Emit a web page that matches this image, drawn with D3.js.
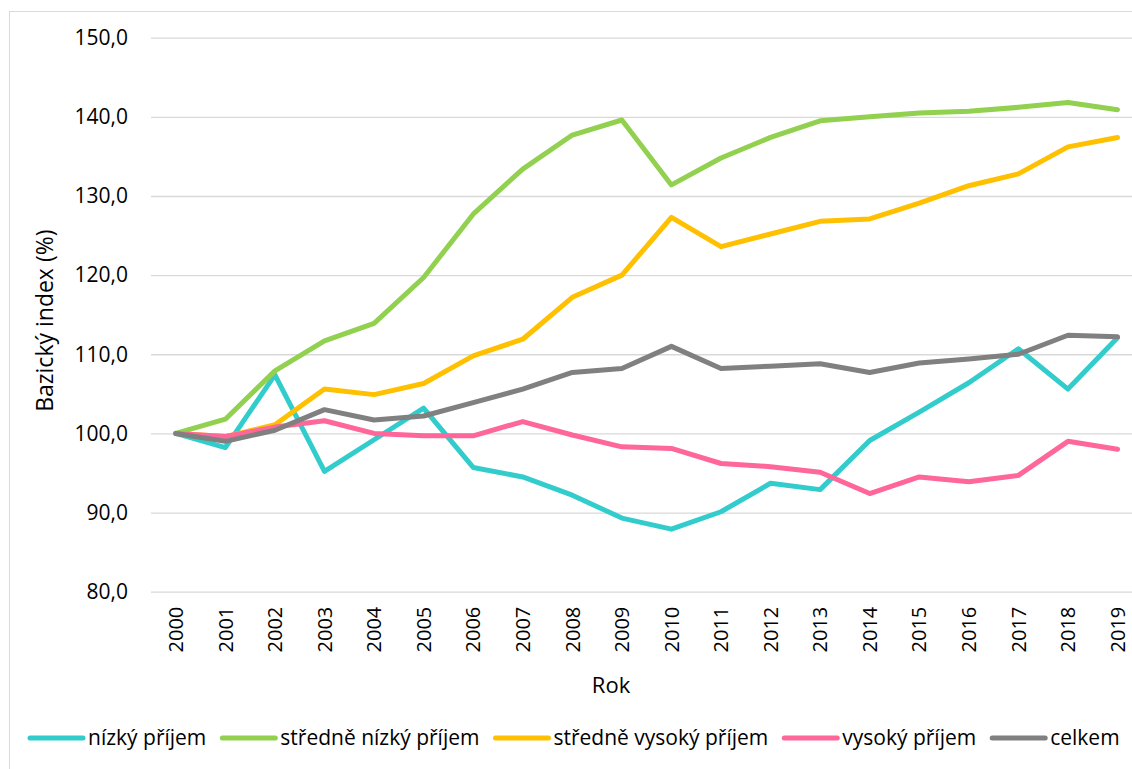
<!DOCTYPE html>
<html>
<head>
<meta charset="utf-8">
<script src="https://cdn.jsdelivr.net/npm/d3@7"></script>
<style>
  html, body { margin: 0; padding: 0; background: #fff; }
  svg { display: block; font-family: "Open Sans", "Noto Sans", sans-serif; }
</style>
</head>
<body>
<svg id="chart" width="1132" height="769"></svg>
<script>
const years = ["2000","2001","2002","2003","2004","2005","2006","2007","2008","2009","2010","2011","2012","2013","2014","2015","2016","2017","2018","2019"];
const nizkyPrijem = [100, 98.2, 107.4, 95.2, 99.2, 103.2, 95.7, 94.5, 92.2, 89.3, 87.9, 90.1, 93.7, 92.9, 99.1, 102.7, 106.4, 110.7, 105.6, 112.1];
const stredneNizkyPrijem = [100, 101.8, 107.9, 111.7, 113.9, 119.7, 127.7, 133.4, 137.7, 139.6, 131.4, 134.8, 137.4, 139.5, 140.0, 140.5, 140.7, 141.2, 141.8, 140.9];
const stredneVysokyPrijem = [100, 99.6, 101.1, 105.6, 104.9, 106.3, 109.8, 111.9, 117.2, 120.0, 127.3, 123.6, 125.2, 126.8, 127.1, 129.1, 131.3, 132.8, 136.2, 137.4];
const vysokyPrijem = [100, 99.6, 100.8, 101.6, 100.0, 99.7, 99.7, 101.5, 99.8, 98.3, 98.1, 96.2, 95.8, 95.1, 92.4, 94.5, 93.9, 94.7, 99.0, 98.0];
const celkem = [100, 99.0, 100.4, 103.0, 101.7, 102.2, 103.9, 105.6, 107.7, 108.2, 111.0, 108.2, 108.5, 108.8, 107.7, 108.9, 109.4, 110.0, 112.4, 112.2];
const seriesNames = ["nízký příjem", "středně nízký příjem", "středně vysoký příjem", "vysoký příjem", "celkem"];
const seriesColors = ["#33CCCC", "#92D050", "#FFC000", "#FF6699", "#808080"];
const yTicks = [80, 90, 100, 110, 120, 130, 140, 150];
const yTitle = "Bazický index (%)";
const xTitle = "Rok";

const seriesData = [nizkyPrijem, stredneNizkyPrijem, stredneVysokyPrijem, vysokyPrijem, celkem];

const svg = d3.select("#chart");
const plot = { left: 151, right: 1142.3, top: 37.7, bottom: 591.7 };

// chart frame
svg.append("rect")
  .attr("x", 9.5).attr("y", 11.5)
  .attr("width", 1200).attr("height", 800)
  .attr("fill", "none").attr("stroke", "#d9d9d9").attr("stroke-width", 1);

const x = d3.scaleBand().domain(years).range([plot.left, plot.right]);
const y = d3.scaleLinear().domain([80, 150]).range([plot.bottom, plot.top]);
const fmt = d3.formatLocale({ decimal: ",", thousands: " ", grouping: [3], currency: ["", " Kč"] }).format(".1f");

// y axis with gridlines
const yAxis = svg.append("g")
  .attr("transform", `translate(${plot.left},0)`)
  .call(d3.axisLeft(y).tickValues(yTicks).tickFormat(fmt)
    .tickSize(-(plot.right - plot.left)).tickPadding(23));
yAxis.select(".domain").remove();
yAxis.selectAll(".tick line").attr("stroke", "#d9d9d9").attr("stroke-width", 1.3);
yAxis.selectAll(".tick text")
  .attr("font-size", 21).attr("fill", "#000")
  .attr("font-family", "'Open Sans', sans-serif");

// x axis labels
const xAxis = svg.append("g")
  .attr("transform", `translate(0,${plot.bottom})`)
  .call(d3.axisBottom(x).tickSize(0).tickPadding(0));
xAxis.select(".domain").remove();
xAxis.selectAll(".tick text")
  .attr("font-size", 20).attr("fill", "#000")
  .attr("font-family", "'Open Sans', sans-serif")
  .attr("text-anchor", "end")
  .attr("transform", "rotate(-90)")
  .attr("x", -15).attr("y", 0).attr("dy", "0.36em");

// axis titles
svg.append("text")
  .attr("transform", `translate(53,${(plot.top + plot.bottom) / 2 + 6}) rotate(-90)`)
  .attr("text-anchor", "middle")
  .attr("font-size", 23).attr("fill", "#000")
  .text(yTitle);
svg.append("text")
  .attr("x", 611).attr("y", 693)
  .attr("text-anchor", "middle")
  .attr("font-size", 22).attr("fill", "#000")
  .text(xTitle);

// lines
const line = d3.line()
  .x((d, i) => x(years[i]) + x.bandwidth() / 2)
  .y(d => y(d));
svg.append("g").selectAll("path")
  .data(seriesData)
  .join("path")
  .attr("d", d => line(d))
  .attr("fill", "none")
  .attr("stroke", (d, i) => seriesColors[i])
  .attr("stroke-width", 5)
  .attr("stroke-linejoin", "round")
  .attr("stroke-linecap", "round");

// legend
const legend = svg.append("g").attr("transform", "translate(0,738)");
let cx = 30;
seriesNames.forEach((name, i) => {
  const g = legend.append("g").attr("transform", `translate(${cx},0)`);
  g.append("line").attr("x1", 0).attr("x2", 53).attr("y1", 0).attr("y2", 0)
    .attr("stroke", seriesColors[i]).attr("stroke-width", 5).attr("stroke-linecap", "round");
  const t = g.append("text").attr("x", 58).attr("y", 0).attr("dy", "0.35em")
    .attr("font-size", 21).attr("fill", "#000").text(name);
  const w = t.node().getComputedTextLength();
  cx += 58 + w + 16;
});
</script>
</body>
</html>
